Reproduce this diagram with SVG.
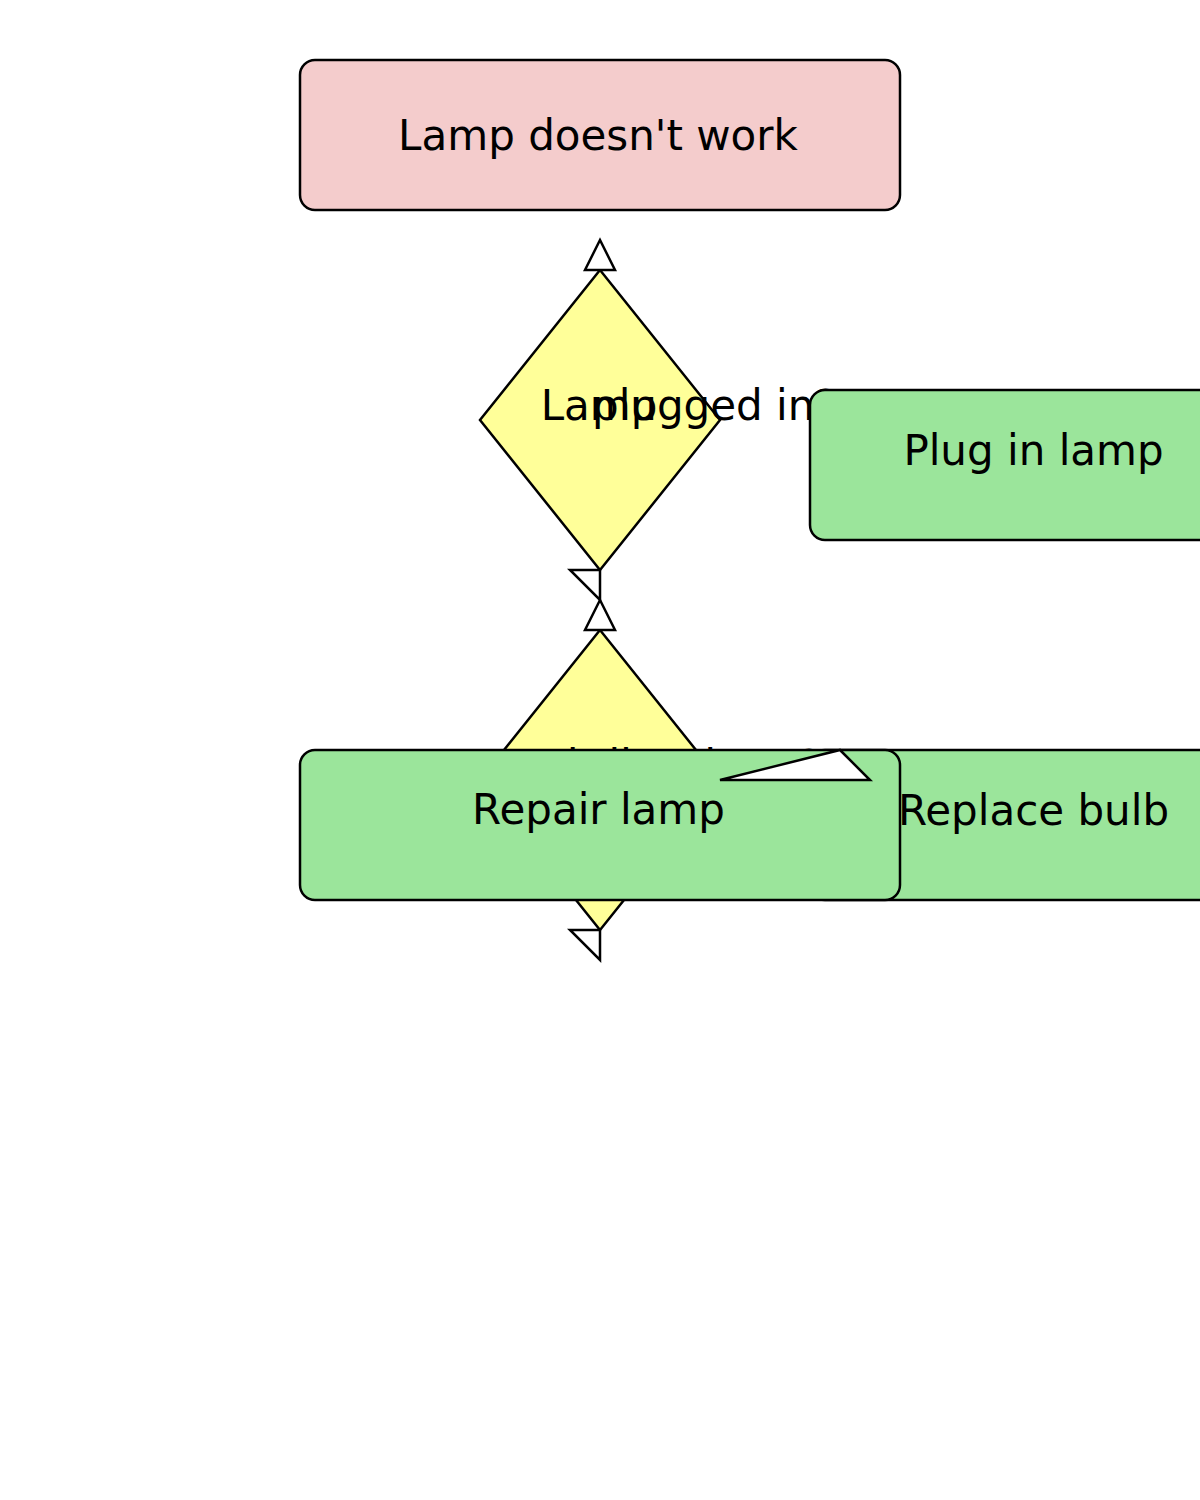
<svg xmlns="http://www.w3.org/2000/svg" width="1200" height="1500" viewBox="0 0 1200 1500">
  <style>
    .shape { stroke: #000; stroke-width: 2.5; }
    .start { fill: #f4cccc; }
    .decision { fill: #ffff99; }
    .action { fill: #9be59b; }
    .label { font-family: "DejaVu Sans", "Liberation Sans", sans-serif; font-size: 42px; fill: #000; }
    .mid { text-anchor: middle; }
    .head { fill: #fff; stroke: #000; stroke-width: 2.5; stroke-linejoin: miter; }
  </style>
  <rect width="1200" height="1500" fill="#fff"/>
  <g id="node-start">
    <rect class="shape start" x="300" y="60" width="600" height="150" rx="15" ry="15"/>
    <text class="label mid" x="598" y="150">Lamp doesn't work</text>
  </g>
  <g id="node-plugged">
    <polygon class="shape decision" points="600,270 720,420 600,570 480,420"/>
    <text class="label mid" x="599" y="420">Lamp</text>
    <text class="label" x="592" y="420">plugged in?</text>
  </g>
  <g id="node-plug-in">
    <rect class="shape action" x="810" y="390" width="450" height="150" rx="15" ry="15"/>
    <text class="label mid" x="1033.5" y="465">Plug in lamp</text>
  </g>
  <g id="node-bulb">
    <polygon class="shape decision" points="600,630 720,780 600,930 480,780"/>
    <text class="label mid" x="600" y="780">Bulb</text>
    <text class="label" x="567" y="780">burned out?</text>
  </g>
  <g id="node-replace">
    <rect class="shape action" x="810" y="750" width="450" height="150" rx="15" ry="15"/>
    <text class="label mid" x="1033.5" y="825">Replace bulb</text>
  </g>
  <g id="node-repair">
    <rect class="shape action" x="300" y="750" width="600" height="150" rx="15" ry="15"/>
    <text class="label mid" x="598.5" y="824">Repair lamp</text>
  </g>
  <g id="connectors">
    <polygon class="head" points="600,240 585,270 615,270"/>
    <polygon class="head" points="570,570 600,570 600,600"/>
    <polygon class="head" points="600,600 585,630 615,630"/>
    <polygon class="head" points="570,930 600,930 600,960"/>
    <polygon class="head" points="720,780 840,750 870,780"/>
  </g>
</svg>
